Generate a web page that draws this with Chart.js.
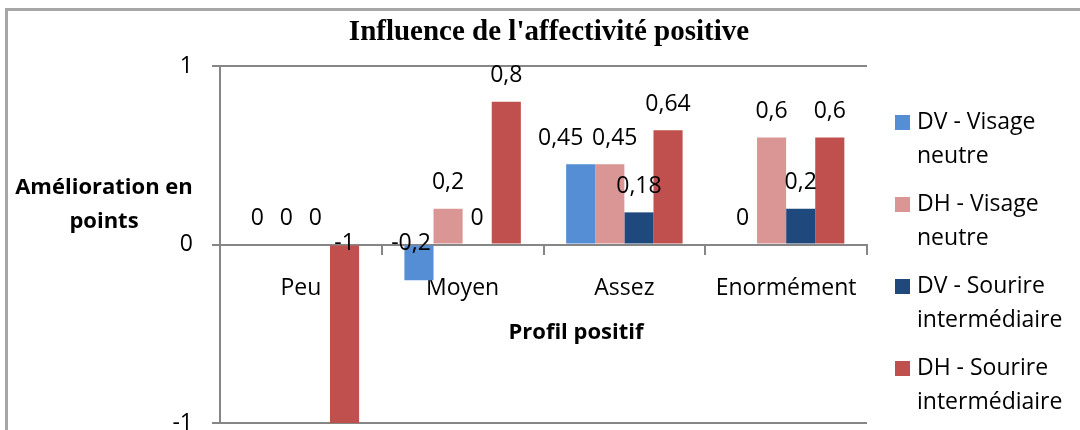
<!DOCTYPE html>
<html>
<head>
<meta charset="utf-8">
<script src="https://cdn.jsdelivr.net/npm/chart.js@4"></script>
<style>
  body { margin: 0; background: #fff; }
  #wrap { position: relative; width: 1080px; height: 430px; }
  #frame { position: absolute; left: 5px; top: 8px; right: 0; bottom: 0;
           border-left: 3px solid #a6a6a6; border-top: 3px solid #a6a6a6; pointer-events: none; }
</style>
</head>
<body>
<div id="wrap">
  <canvas id="chart" width="1080" height="430"></canvas>
  <div id="frame"></div>
</div>
<script>
// categories and series
const categories = ['Peu', 'Moyen', 'Assez', 'Enormément'];
const dvNeutre   = [0, -0.2, 0.45, 0];
const dhNeutre   = [0, 0.2, 0.45, 0.6];
const dvSourire  = [0, 0, 0.18, 0.2];
const dhSourire  = [-1, 0.8, 0.64, 0.6];
const seriesNames = ['DV - Visage neutre', 'DH - Visage neutre', 'DV - Sourire intermédiaire', 'DH - Sourire intermédiaire'];
const legendLines = [['DV - Visage', 'neutre'], ['DH - Visage', 'neutre'], ['DV - Sourire', 'intermédiaire'], ['DH - Sourire', 'intermédiaire']];
const yTicks = [-1, 0, 1];

const chartTitle = "Influence de l'affectivité positive";
const yTitle = ['Amélioration en', 'points'];
const xTitle = 'Profil positif';

const colors = ['#558ed5', '#d99694', '#1f497d', '#c0504d'];
const font = '"Open Sans", "Noto Sans", sans-serif';
// labels that Excel nudged sideways so they don't overlap ("series-category": px)
const labelShift = { '0-2': -20, '1-2': 5, '0-1': -8 };

const decorations = {
    id: 'decorations',
    afterDatasetsDraw(chart) {
        const ctx = chart.ctx;
        const yScale = chart.scales.y;
        const zero = yScale.getPixelForValue(0);
        ctx.save();
        // data labels
        ctx.fillStyle = '#000';
        ctx.font = '23px ' + font;
        ctx.textAlign = 'center';
        ctx.textBaseline = 'middle';
        chart.data.datasets.forEach((ds, i) => {
            chart.getDatasetMeta(i).data.forEach((bar, j) => {
                const v = ds.data[j];
                const y = v >= 0 ? yScale.getPixelForValue(v) - 26 : zero - 1;
                const dx = labelShift[i + '-' + j] || 0;
                ctx.fillText(String(v).replace('.', ','), bar.x + dx, y);
            });
        });
        // title
        ctx.font = 'bold 29px "Liberation Serif", "DejaVu Serif", serif';
        ctx.fillText(chartTitle, 549, 33);
        // axis titles
        ctx.font = 'bold 22px ' + font;
        ctx.fillText(yTitle[0], 104, 188);
        ctx.fillText(yTitle[1], 104, 222);
        ctx.fillText(xTitle, 576, 333);
        // legend
        ctx.font = '23px ' + font;
        ctx.textAlign = 'left';
        legendLines.forEach((lines, i) => {
            const y = 122 + i * 82;
            ctx.fillStyle = colors[i];
            ctx.fillRect(895, y - 7, 15, 15);
            ctx.fillStyle = '#000';
            ctx.fillText(lines[0], 917, y);
            ctx.fillText(lines[1], 917, y + 34);
        });
        ctx.restore();
    }
};

const ctx = document.getElementById('chart').getContext('2d');
const chart = new Chart(ctx, {
    type: 'bar',
    data: {
        labels: categories,
        datasets: [dvNeutre, dhNeutre, dvSourire, dhSourire].map((d, i) => ({
            label: seriesNames[i],
            data: d,
            backgroundColor: colors[i],
            borderWidth: 0,
            barPercentage: 1,
            categoryPercentage: 0.72
        }))
    },
    options: {
        responsive: false,
        animation: false,
        layout: { padding: { left: 0, right: 213, top: 66, bottom: 7 } },
        plugins: { legend: { display: false }, title: { display: false }, tooltip: { enabled: false } },
        scales: {
            x: {
                position: { y: 0 },
                afterFit(scale) { scale.height = 0; },
                grid: { offset: true, drawOnChartArea: false, drawTicks: true, tickLength: 9, color: '#868686', lineWidth: 2 },
                border: { color: '#868686', width: 2 },
                ticks: { color: '#000', font: { family: font, size: 23 }, padding: 21 }
            },
            y: {
                min: -1,
                max: 1,
                afterFit(scale) {
                    scale.width = 220;
                    // the -1 label may hang off the bottom, like in the original
                    scale.paddingTop = 0;
                    scale.paddingBottom = 0;
                },
                afterBuildTicks(scale) { scale.ticks = yTicks.map(v => ({ value: v })); },
                grid: { color: '#868686', lineWidth: 2, tickLength: 8 },
                border: { color: '#868686', width: 2 },
                ticks: { color: '#000', font: { family: font, size: 23 }, padding: 19 }
            }
        }
    },
    plugins: [decorations]
});
</script>
</body>
</html>
